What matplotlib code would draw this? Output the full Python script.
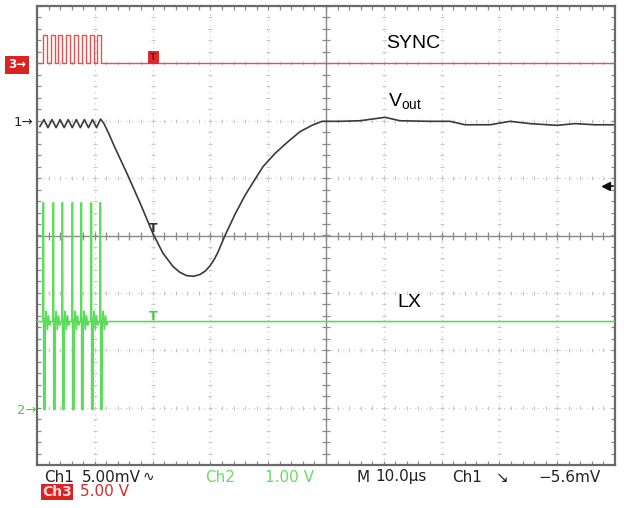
import numpy as np
import matplotlib
matplotlib.use("Agg")
import matplotlib.pyplot as plt

plt.rcParams['mathtext.fontset'] = 'custom'
plt.rcParams['mathtext.rm'] = 'Liberation Sans'
plt.rcParams['mathtext.it'] = 'Liberation Sans'

# time in us (10 us/div, screen spans -50..50), amplitude in divisions (-4..4)
# SYNC (Ch3): burst of pulses then flat
sync_low = 3.0
sync_high = 3.5
sync_rise = [-49.0, -47.65, -46.3, -44.95, -43.6, -42.25, -40.9, -39.55]
sync_fall = [-48.3, -46.95, -45.6, -44.25, -42.9, -41.55, -40.2, -38.85]

# Vout (Ch1): ripple, undershoot and recovery
vout_t = [-49.5, -48.8, -48.1, -47.4, -46.7, -46.0, -45.3, -44.6, -43.9, -43.2,
          -42.5, -41.8, -41.1, -40.4, -39.7, -39.0, -38.41, -37.6,
          -36.51, -34.43, -32.18, -29.93, -28.20, -26.47, -25.3, -24.1, -22.9,
          -21.8, -20.9, -20.07, -19.3, -18.69, -17.47, -15.74, -14.01, -12.28,
          -10.90, -8.82, -6.75, -4.50, -2.42, -0.69, 2.42, 5.88, 10.21, 12.80,
          17.99, 21.45, 24.05, 28.37, 31.83, 35.29, 39.97, 43.08, 46.54, 49.65]
vout_y = [1.90, 2.02, 1.88, 2.02, 1.88, 2.02, 1.88, 2.02, 1.88, 2.02,
          1.88, 2.02, 1.88, 2.02, 1.88, 2.03, 1.95, 1.78,
          1.53, 1.08, 0.57, 0.03, -0.31, -0.54, -0.64, -0.70, -0.71,
          -0.68, -0.62, -0.53, -0.41, -0.29, 0.0, 0.37, 0.70, 0.98,
          1.20, 1.43, 1.62, 1.81, 1.92, 1.99, 1.99, 2.00, 2.06, 2.00,
          1.99, 1.99, 1.93, 1.93, 1.99, 1.95, 1.92, 1.95, 1.93, 1.93]

# LX (Ch2): switching spikes then idle level
lx_idle = -1.50
lx_high = 0.57
lx_low = -3.03
lx_spikes = [-48.96, -47.23, -45.67, -43.94, -42.39, -40.66, -39.10]
lx_shape_t = [0.0, 0.02, 0.10, 0.12, 0.36, 0.38, 0.55, 0.75, 0.95, 1.15, 1.35]
lx_shape_y = [lx_idle, lx_high, lx_high, lx_low, lx_low, lx_idle,
              -1.32, -1.64, -1.40, -1.56, lx_idle]

W, H = 624, 508
fig = plt.figure(figsize=(W / 100, H / 100), dpi=100)
fig.patch.set_facecolor('white')
ax = fig.add_axes([37 / W, 43 / H, 578 / W, 459 / H])
ax.set_xlim(-50, 50)
ax.set_ylim(-4, 4)
ax.set_xticks([])
ax.set_yticks([])
for s in ax.spines.values():
    s.set_color('#6a6a6a')
    s.set_linewidth(1.6)

# graticule
fine_x = np.arange(-50, 50.01, 2.0)
fine_y = np.arange(-4, 4.001, 0.2)
grid_c = '#c8c8c8'
for xv in range(-40, 50, 10):
    if xv == 0:
        continue
    ax.plot([xv, xv], [-4, 4], ls=(0, (1, 4)), color=grid_c, lw=0.8, zorder=1)
    ax.plot(np.full_like(fine_y, xv), fine_y, ls='none', marker='_', ms=3,
            color=grid_c, mew=0.8, zorder=1)
for yv in range(-3, 4):
    if yv == 0:
        continue
    ax.plot([-50, 50], [yv, yv], ls=(0, (1, 4)), color=grid_c, lw=0.8, zorder=1)
    ax.plot(fine_x, np.full_like(fine_x, yv), ls='none', marker='|', ms=3,
            color=grid_c, mew=0.8, zorder=1)
ax.axhline(0, color='#8a8a8a', lw=1.0, zorder=1)
ax.axvline(0, color='#8a8a8a', lw=1.0, zorder=1)
ax.plot(fine_x, np.zeros_like(fine_x), ls='none', marker='|', ms=6, color='#8a8a8a', mew=0.9, zorder=1)
ax.plot(np.zeros_like(fine_y), fine_y, ls='none', marker='_', ms=6, color='#8a8a8a', mew=0.9, zorder=1)
# border ticks
edge_c = '#8c8c8c'
ax.plot(fine_x, np.full_like(fine_x, 4), ls='none', marker='|', ms=6, color=edge_c, mew=0.9, zorder=1)
ax.plot(fine_x, np.full_like(fine_x, -4), ls='none', marker='|', ms=6, color=edge_c, mew=0.9, zorder=1)
ax.plot(np.full_like(fine_y, -50), fine_y, ls='none', marker='_', ms=6, color=edge_c, mew=0.9, zorder=1)
ax.plot(np.full_like(fine_y, 50), fine_y, ls='none', marker='_', ms=6, color=edge_c, mew=0.9, zorder=1)

# SYNC trace
sx, sy = [-50], [sync_low]
for r, f in zip(sync_rise, sync_fall):
    sx += [r, r, f, f]
    sy += [sync_low, sync_high, sync_high, sync_low]
sx.append(50)
sy.append(sync_low)
ax.plot(sx, sy, color='#e25252', lw=1.0, zorder=3)

# LX trace
lx_x, lx_y = [-50], [lx_idle]
for t0 in lx_spikes:
    lx_x += [t0 + d for d in lx_shape_t]
    lx_y += lx_shape_y
lx_x.append(50)
lx_y.append(lx_idle)
ax.plot(lx_x, lx_y, color='#5bdc5b', lw=1.2, zorder=3)

# Vout trace
ax.plot(vout_t, vout_y, color='#3a3a3a', lw=1.2, zorder=4)

# trigger position markers
ax.text(-29.9, 0.0, 'T', color='#333333', fontsize=9, fontweight='bold',
        ha='center', va='bottom', zorder=5)
ax.text(-29.9, -1.52, 'T', color='#44cc44', fontsize=9, fontweight='bold',
        ha='center', va='bottom', zorder=5)
ax.text(-29.9, 3.1, 'T', color='#801010', fontsize=6.5, fontweight='bold',
        ha='center', va='center', zorder=5,
        bbox=dict(boxstyle='square,pad=0.25', fc='#dd2a2a', ec='none'))
# trigger level arrow
ax.plot([48.6, 49.6], [0.87, 0.87], color='#111111', lw=1.2, zorder=5)
ax.plot([48.4], [0.87], marker='<', ms=6, color='#111111', zorder=5)

# trace labels
ax.text(15.0, 3.34, 'SYNC', fontsize=14, family='Liberation Sans',
        ha='center', va='center', color='black', zorder=6)
ax.text(10.7, 2.25, r'V$_{\mathrm{out}}$', fontsize=14, family='Liberation Sans',
        ha='left', va='baseline', color='black', zorder=6)
ax.text(14.5, -1.16, 'LX', fontsize=14, family='Liberation Sans',
        ha='center', va='center', color='black', zorder=6)


def ftext(px, py, s, **kw):
    fig.text(px / W, 1 - py / H, s, **kw)


# channel ground markers on the left
ftext(8, 65, '3\u2192', color='white', fontsize=8.5, fontweight='bold', va='center',
      bbox=dict(boxstyle='square,pad=0.25', fc='#dd2222', ec='none'))
ftext(14, 122, '1\u2192', color='#222222', fontsize=9.5, va='center')
ftext(17, 410, '2\u2192', color='#44cc44', fontsize=9.5, va='center')

# readout text
black = '#222222'
green = '#66dd66'
red = '#dd2a2a'
fs = 11
ftext(44, 477, 'Ch1', color=black, fontsize=fs, va='center')
ftext(82, 477, '5.00mV', color=black, fontsize=fs, va='center')
ftext(143, 477, '\u223f', color=black, fontsize=fs - 1, va='center')
ftext(205, 477, 'Ch2', color=green, fontsize=fs, va='center')
ftext(265, 477, '1.00 V', color=green, fontsize=fs, va='center')
ftext(357, 477, 'M', color=black, fontsize=fs, va='center')
ftext(375, 477, '10.0\u00b5s', color=black, fontsize=fs, va='center')
ftext(452, 477, 'Ch1', color=black, fontsize=fs, va='center')
ftext(496, 477, '\u2198', color=black, fontsize=fs, va='center')
ftext(538, 477, '\u22125.6mV', color=black, fontsize=fs, va='center')
ftext(42, 492, 'Ch3', color='#ffdddd', fontsize=fs - 1, va='center', fontweight='bold',
      bbox=dict(boxstyle='square,pad=0.1', fc='#dd2222', ec='none'))
ftext(80, 492, '5.00 V', color=red, fontsize=fs, va='center')

fig.savefig('out.png', dpi=100, facecolor='white')
